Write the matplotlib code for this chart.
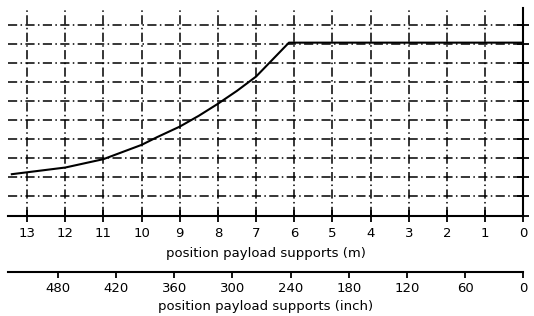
import matplotlib
matplotlib.use("Agg")
import matplotlib.pyplot as plt
import numpy as np

# position of payload supports (m) and the curve value (no y labels shown)
pos_m = [13.4, 12.0, 11.0, 10.0, 9.6, 9.0, 8.5, 8.0, 7.5, 7.0, 6.14, 0.0]
value = [2.17, 2.52, 2.96, 3.71, 4.11, 4.67, 5.24, 5.87, 6.55, 7.30, 9.08, 9.08]

m_ticks = list(range(0, 14))
inch_ticks = [0, 60, 120, 180, 240, 300, 360, 420, 480]
y_ticks = list(range(0, 11))

x_max = 13.5
y_max = 10.9
M_PER_INCH = 0.0254

plt.rcParams['font.family'] = ['DejaVu Sans']
plt.rcParams['font.size'] = 9.5

fig = plt.figure(figsize=(5.34, 3.16), dpi=100)
left, right = 8 / 534, 523.3 / 534
bottom, top = 1 - 215.5 / 316, 1 - 8 / 316
ax = fig.add_axes([left, bottom, right - left, top - bottom])

dash = (0, (6.0, 2.2, 1.0, 2.2))
ax.plot(pos_m, value, color='black', lw=1.5, zorder=3)

ax.set_xlim(x_max, 0)
ax.set_ylim(0, y_max)
ax.set_xticks(m_ticks)
ax.set_yticks(y_ticks)
ax.yaxis.tick_right()
ax.tick_params(axis='y', direction='inout', length=8, width=1.3, labelright=False)
ax.tick_params(axis='x', direction='inout', length=8, width=1.3, pad=4, labelsize=9.5)

for s in ['top', 'left']:
    ax.spines[s].set_visible(False)
for s in ['bottom', 'right']:
    ax.spines[s].set_linewidth(1.5)

for xv in m_ticks[1:]:
    ax.axvline(xv, color='black', lw=1.1, ls=dash, zorder=1)
for yv in y_ticks[1:]:
    ax.axhline(yv, color='black', lw=1.1, ls=dash, zorder=1)

ax.set_xlabel('position payload supports (m)', labelpad=5, fontsize=9.5)

# second axis in inch below
iy = 1 - 272 / 316
ax2 = fig.add_axes([left, iy, right - left, 0.001])
ax2.set_xlim(x_max / M_PER_INCH, 0)
ax2.set_xticks(inch_ticks)
ax2.set_yticks([])
for s in ['top', 'left', 'right']:
    ax2.spines[s].set_visible(False)
ax2.spines['bottom'].set_linewidth(1.5)
ax2.patch.set_visible(False)
ax2.tick_params(axis='x', direction='out', length=4, width=1.3, pad=3.5, labelsize=9.5)
ax2.set_xlabel('position payload supports (inch)', labelpad=3, fontsize=9.5)

fig.savefig('out.png', dpi=100)
